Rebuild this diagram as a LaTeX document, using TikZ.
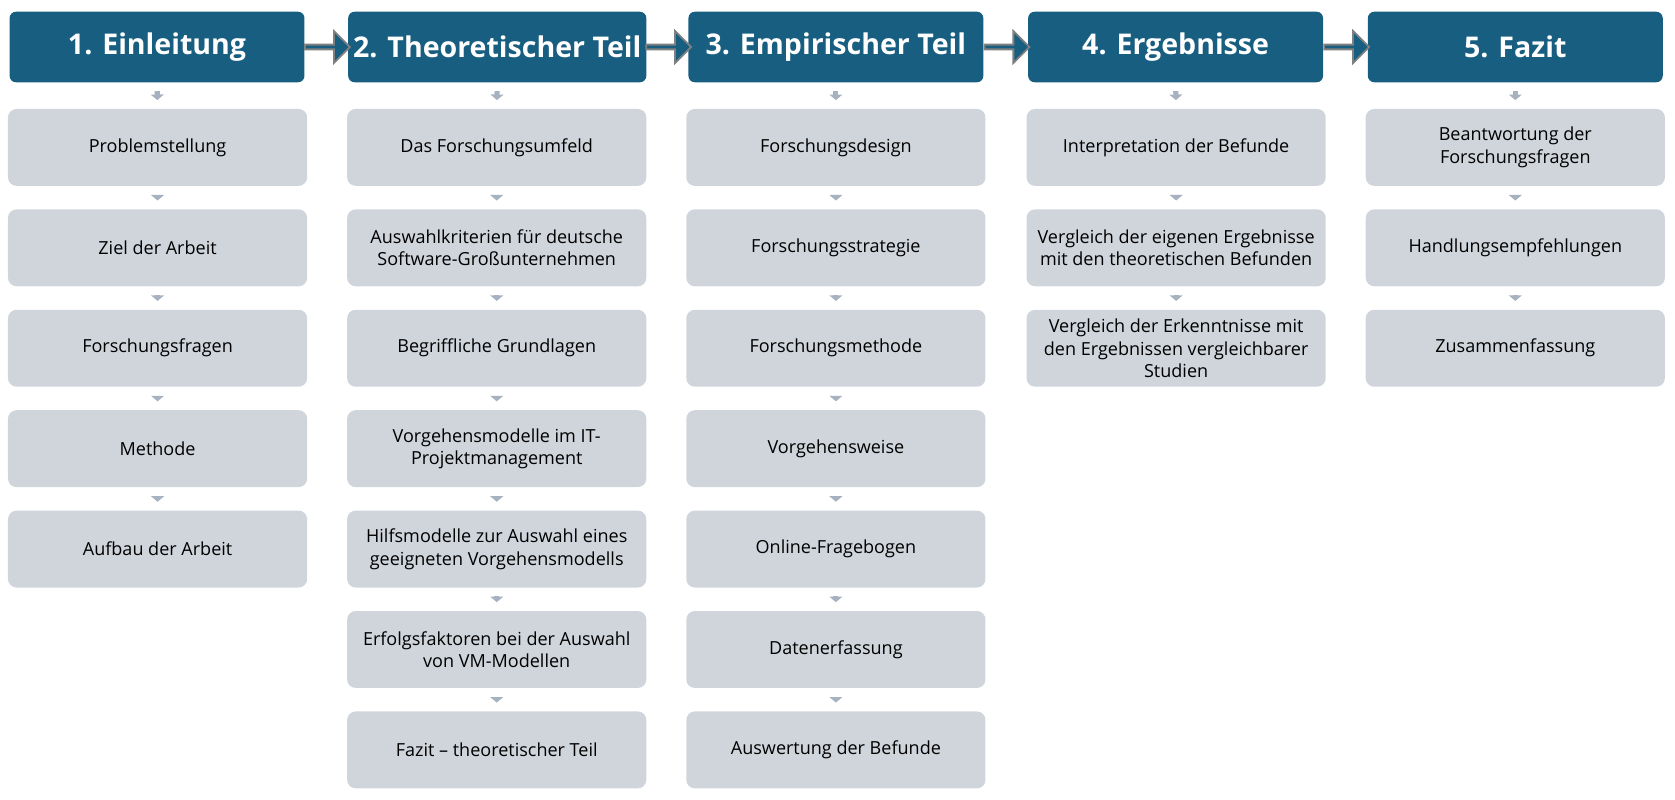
\documentclass[tikz,border=0pt]{standalone}
\usepackage{fontspec}
\setmainfont{Open Sans}
\usetikzlibrary{shapes.arrows,arrows.meta}
\definecolor{headblue}{HTML}{175E80}
\definecolor{boxgray}{HTML}{D0D5DC}
\definecolor{tipgray}{HTML}{A7B2C0}
\begin{document}
\begin{tikzpicture}[x=0.025cm,y=-0.025cm,
    head node/.style={rectangle,rounded corners=0.15cm,fill=headblue,text=white,minimum width=6.9cm,minimum height=1.65cm,font=\fontsize{19}{22}\selectfont\bfseries},
    sub node/.style={rectangle,rounded corners=0.2cm,fill=boxgray,minimum width=7cm,minimum height=1.8cm,align=center,font=\fontsize{12}{15}\selectfont},
    step arrow/.style={draw=tipgray,line width=0.12cm,shorten <=0.2cm,shorten >=0.2cm,-{Triangle[length=0.13cm,width=0.3cm]}},
    big arrow/.style={single arrow,draw=gray,line width=1.2pt,fill=headblue,minimum height=1.05cm,minimum width=0.75cm,single arrow head extend=0.12cm,inner sep=0pt}]
    \useasboundingbox (0,0) rectangle (1568,748);

    \node[head node] (h1) at (147,44) {1. Einleitung};
    \node[head node] (h2) at (465.5,44) {2. Theoretischer Teil};
    \node[head node] (h3) at (782.5,44) {3. Empirischer Teil};
    \node[head node] (h4) at (1100.5,44) {4. Ergebnisse};
    \node[head node] (h5) at (1418.5,44) {5. Fazit};

    \foreach \a/\b in {h1/h2,h2/h3,h3/h4,h4/h5}
        \path (\a.east) -- node[big arrow] (\a\b) {} (\b.west);

    % Einleitung
    \node[sub node] (a1) at (147.5,138) {Problemstellung};
    \node[sub node] (a2) at (147.5,232) {Ziel der Arbeit};
    \node[sub node] (a3) at (147.5,326) {Forschungsfragen};
    \node[sub node] (a4) at (147.5,420) {Methode};
    \node[sub node] (a5) at (147.5,514) {Aufbau der Arbeit};

    % Theoretischer Teil
    \node[sub node] (b1) at (465,138) {Das Forschungsumfeld};
    \node[sub node] (b2) at (465,232) {Auswahlkriterien für deutsche\\Software-Großunternehmen};
    \node[sub node] (b3) at (465,326) {Begriffliche Grundlagen};
    \node[sub node] (b4) at (465,420) {Vorgehensmodelle im IT-\\Projektmanagement};
    \node[sub node] (b5) at (465,514) {Hilfsmodelle zur Auswahl eines\\geeigneten Vorgehensmodells};
    \node[sub node] (b6) at (465,608) {Erfolgsfaktoren bei der Auswahl\\von VM-Modellen};
    \node[sub node] (b7) at (465,702) {Fazit – theoretischer Teil};

    % Empirischer Teil
    \node[sub node] (c1) at (782.5,138) {Forschungsdesign};
    \node[sub node] (c2) at (782.5,232) {Forschungsstrategie};
    \node[sub node] (c3) at (782.5,326) {Forschungsmethode};
    \node[sub node] (c4) at (782.5,420) {Vorgehensweise};
    \node[sub node] (c5) at (782.5,514) {Online-Fragebogen};
    \node[sub node] (c6) at (782.5,608) {Datenerfassung};
    \node[sub node] (c7) at (782.5,702) {Auswertung der Befunde};

    % Ergebnisse
    \node[sub node] (d1) at (1101,138) {Interpretation der Befunde};
    \node[sub node] (d2) at (1101,232) {Vergleich der eigenen Ergebnisse\\mit den theoretischen Befunden};
    \node[sub node] (d3) at (1101,326) {Vergleich der Erkenntnisse mit\\den Ergebnissen vergleichbarer\\Studien};

    % Fazit
    \node[sub node] (e1) at (1418.5,138) {Beantwortung der\\Forschungsfragen};
    \node[sub node] (e2) at (1418.5,232) {Handlungsempfehlungen};
    \node[sub node] (e3) at (1418.5,326) {Zusammenfassung};

    \foreach \a/\b in {h1/a1,a1/a2,a2/a3,a3/a4,a4/a5,
                       h2/b1,b1/b2,b2/b3,b3/b4,b4/b5,b5/b6,b6/b7,
                       h3/c1,c1/c2,c2/c3,c3/c4,c4/c5,c5/c6,c6/c7,
                       h4/d1,d1/d2,d2/d3,
                       h5/e1,e1/e2,e2/e3}
        \draw[step arrow] (\a.south) -- (\b.north);
\end{tikzpicture}
\end{document}
